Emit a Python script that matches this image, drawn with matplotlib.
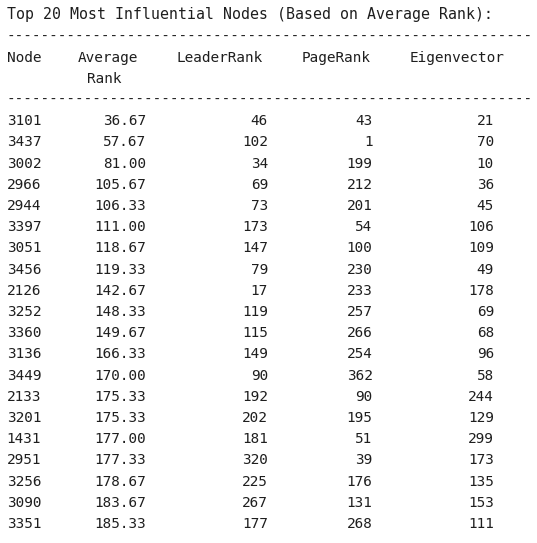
import matplotlib
matplotlib.use("Agg")
import matplotlib.pyplot as plt

title = "Top 20 Most Influential Nodes (Based on Average Rank):"
columns = ["Node", "Average", "LeaderRank", "PageRank", "Eigenvector"]
nodes = [3101, 3437, 3002, 2966, 2944, 3397, 3051, 3456, 2126, 3252,
         3360, 3136, 3449, 2133, 3201, 1431, 2951, 3256, 3090, 3351]
avg_rank = [36.67, 57.67, 81.00, 105.67, 106.33, 111.00, 118.67, 119.33, 142.67, 148.33,
            149.67, 166.33, 170.00, 175.33, 175.33, 177.00, 177.33, 178.67, 183.67, 185.33]
leader_rank = [46, 102, 34, 69, 73, 173, 147, 79, 17, 119,
               115, 149, 90, 192, 202, 181, 320, 225, 267, 177]
page_rank = [43, 1, 199, 212, 201, 54, 100, 230, 233, 257,
             266, 254, 362, 90, 195, 51, 39, 176, 131, 268]
eigen_rank = [21, 70, 10, 36, 45, 106, 109, 49, 178, 69,
              68, 96, 58, 244, 129, 299, 173, 135, 153, 111]

W, H = 537, 543
fig = plt.figure(figsize=(W / 100, H / 100), dpi=100)
fig.patch.set_facecolor("white")
ax = fig.add_axes([0, 0, 1, 1])
ax.set_xlim(0, W)
ax.set_ylim(H, 0)
ax.axis("off")

font = dict(family=["DejaVu Sans Mono"], fontsize=10.4, color="#1e1e1e")
pitch = 21.2
def base(i):
    return 19.2 + pitch * i

x0 = 6.7
ax.text(x0, base(0), title, ha="left", va="baseline",
        **{**font, "fontsize": 10.75})
ax.text(x0, base(1), "-" * 61, ha="left", va="baseline", **font)
ax.text(x0, base(4), "-" * 61, ha="left", va="baseline", **font)

# header
hdr_x = [x0, 78.0, 177.0, 302.0, 409.5]
for x, name in zip(hdr_x, columns):
    ax.text(x, base(2), name, ha="left", va="baseline", **font)
ax.text(87.3, base(3), "Rank", ha="left", va="baseline", **font)

# rows
right_x = [146.5, 268.0, 372.5, 494.0]
for r in range(len(nodes)):
    y = base(5 + r)
    ax.text(x0, y, str(nodes[r]), ha="left", va="baseline", **font)
    ax.text(right_x[0], y, f"{avg_rank[r]:.2f}", ha="right", va="baseline", **font)
    ax.text(right_x[1], y, str(leader_rank[r]), ha="right", va="baseline", **font)
    ax.text(right_x[2], y, str(page_rank[r]), ha="right", va="baseline", **font)
    ax.text(right_x[3], y, str(eigen_rank[r]), ha="right", va="baseline", **font)

fig.savefig("out.png", dpi=100, facecolor="white")
